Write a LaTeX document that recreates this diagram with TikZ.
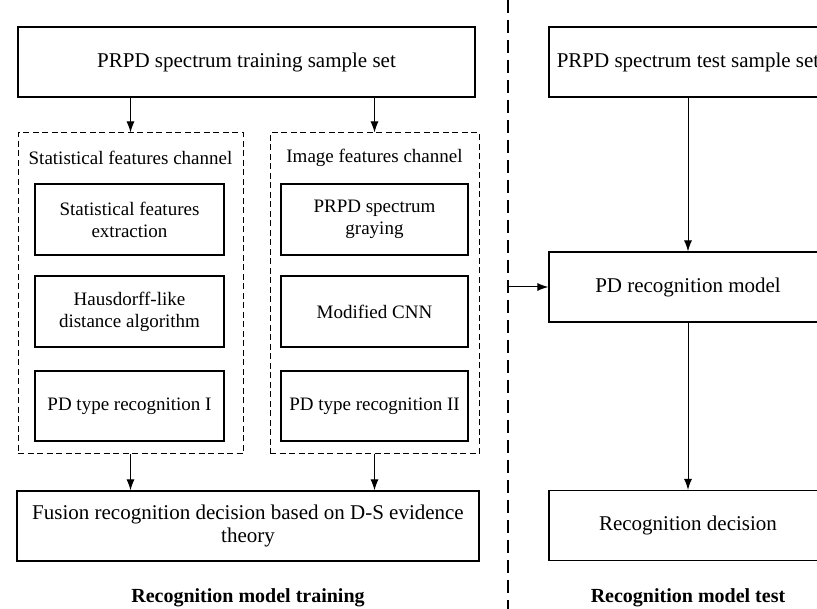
\documentclass[tikz,border=0pt]{standalone}
\usepackage{fontspec}
\setmainfont{Liberation Serif}
\usetikzlibrary{arrows.meta}
\newlength{\du}
\setlength{\du}{1pt}

\tikzset{
  procbox/.style={draw=black, line width=1.2\du, fill=white, align=center,
    inner sep=0pt, minimum width=#1, minimum height=70\du},
  chanframe/.style={draw=black, line width=1\du, dash pattern=on 6\du off 3.5\du,
    inner sep=0pt, minimum width=#1, minimum height=321\du},
  chantext/.style={font=\fontsize{19}{22}\selectfont},
  flow/.style={draw=black, line width=1\du, -{Latex[length=11pt,width=8pt]}},
  plain/.style={align=center, inner sep=0pt},
  caption/.style={plain, font=\fontsize{20}{23}\selectfont\bfseries},
}

\begin{document}
\begin{tikzpicture}[font=\fontsize{21}{23}\selectfont]
\pgftransformxscale{1.000000}
\pgftransformyscale{-1.000000}
\useasboundingbox (0\du,0\du) rectangle (817\du,609\du);
\clip (0\du,0\du) rectangle (817\du,609\du);
% training side
\node[procbox=457\du] (trainset) at (246.5\du,62\du){PRPD spectrum training sample set};
\node[chanframe=225\du] (statch) at (130.5\du,293.5\du){};
\node[chanframe=209\du] (imgch) at (374.5\du,293.5\du){};
\node[plain, chantext] (stattitle) at (130.5\du,158\du){Statistical features channel};
\node[plain, chantext] (imgtitle) at (374.5\du,158\du){Image features channel};
\node[procbox=189\du, minimum height=71\du, chantext] (statext) at (129.5\du,219.5\du){Statistical features\\extraction};
\node[procbox=189\du, minimum height=71\du, chantext] (hausd) at (129.5\du,311.5\du){Hausdorff-like\\distance algorithm};
\node[procbox=189\du, chantext] (pdtypeone) at (129.5\du,406\du){PD type recognition I};
\node[procbox=187\du, minimum height=71\du, chantext] (graying) at (374.5\du,219.5\du){PRPD spectrum\\graying};
\node[procbox=187\du, minimum height=71\du, chantext] (cnn) at (374.5\du,311.5\du){Modified CNN};
\node[procbox=187\du, chantext] (pdtypetwo) at (374.5\du,406\du){PD type recognition II};
\node[procbox=462\du] (fusion) at (248\du,526\du){Fusion recognition decision based on D-S evidence\\theory};
\node[caption] (traintitle) at (248\du,598\du){Recognition model training};
\draw[flow] (trainset.south -| statch.north) -- (statch.north);
\draw[flow] (trainset.south -| imgch.north) -- (imgch.north);
\draw[flow] (statch.south) -- (fusion.north -| statch.south);
\draw[flow] (imgch.south) -- (fusion.north -| imgch.south);
% divider
\coordinate (divtop) at (508\du,0\du);
\coordinate (divbot) at (508\du,609\du);
\coordinate (divin) at (508\du,287\du);
\draw[line width=1.6\du, dash pattern=on 13\du off 7\du] (divtop) -- (divbot);
% test side
\node[procbox=278\du] (testset) at (688\du,62\du){PRPD spectrum test sample set};
\node[procbox=278\du] (pdmodel) at (688\du,287\du){PD recognition model};
\node[procbox=278\du] (decision) at (688\du,525.5\du){Recognition decision};
\node[caption] (testtitle) at (688\du,598\du){Recognition model test};
\draw[flow] (testset) -- (pdmodel);
\draw[flow] (pdmodel) -- (decision);
\draw[flow] (divin) -- (pdmodel.west);
\end{tikzpicture}
\end{document}
